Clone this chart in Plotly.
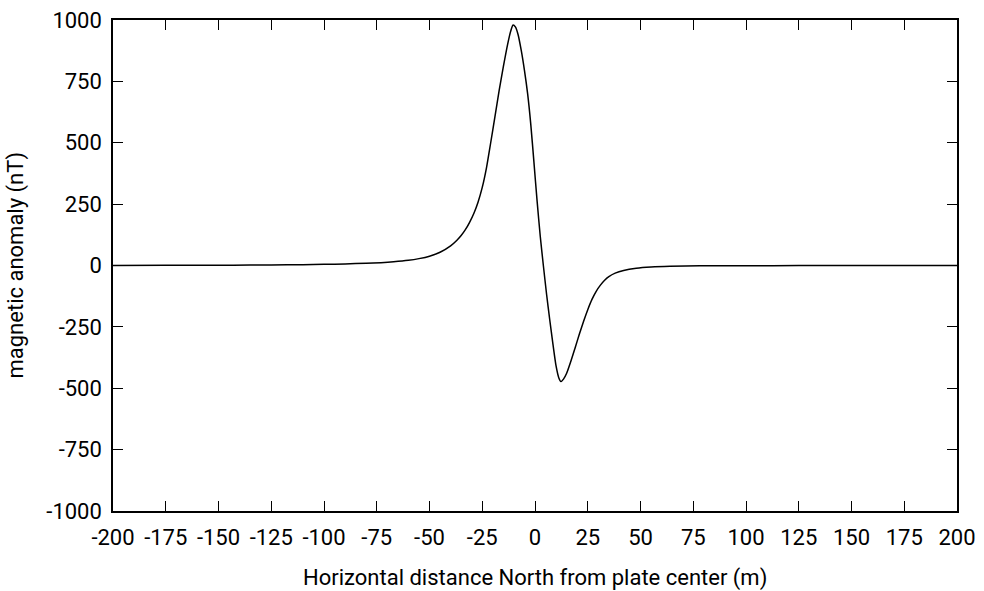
import plotly.graph_objects as go

# distance (m) and anomaly (nT)
distance_m = [-200, -175, -150, -135, -125, -110, -100, -90, -80, -73, -67, -60, -55, -50, -45,
              -40, -37, -35, -33, -31, -29, -27, -25, -23, -21, -19, -17, -15, -13,
              -11.5, -10.4, -9.3, -8, -6.5, -5, -3.5, -2, -0.5, 1, 2.5, 4,
              5.5, 7, 8.5, 10, 11.3, 12.3, 13.5, 15, 17, 19, 21, 23, 25, 27, 29,
              31, 33, 35, 38, 42, 48, 55, 64, 78, 100, 125, 150, 200]
anomaly_nT = [0.5, 0.8, 1.2, 1.7, 2.3, 3.5, 4.7, 6.5, 9, 11.5, 15, 21, 28, 38, 54,
              80, 103, 122, 146, 176, 212, 258, 318, 398, 500, 605, 712, 810, 900,
              955, 980, 972, 940, 875, 795, 700, 575, 420, 262, 118, -3,
              -118, -222, -320, -410, -458, -473, -463, -439, -390, -336, -280, -228, -180, -138, -105,
              -80, -60, -45, -31, -20, -11, -6, -3, -1.5, -0.8, -0.4, -0.2, 0]

x_ticks = [-200, -175, -150, -125, -100, -75, -50, -25, 0, 25, 50, 75, 100, 125, 150, 175, 200]
x_tick_labels = ["-200", "-175", "-150", "-125", "-100", "-75", "-50", "-25", "0", "25", "50",
                 "75", "100", "125", "150", "175", "200"]
y_ticks = [-1000, -750, -500, -250, 0, 250, 500, 750, 1000]
y_tick_labels = ["-1000", "-750", "-500", "-250", "0", "250", "500", "750", "1000"]

x_title = "Horizontal distance North from plate center (m)"
y_title = "magnetic anomaly (nT)"

fig = go.Figure()
fig.add_trace(go.Scatter(x=distance_m, y=anomaly_nT, mode="lines",
                         line=dict(color="black", width=1.5, shape="spline", smoothing=0.7),
                         showlegend=False, hoverinfo="skip"))

font = dict(family="Roboto", size=22, color="black")
axis_common = dict(showgrid=False, zeroline=False, showline=True, linecolor="black",
                   linewidth=1.5, mirror="ticks", ticks="inside", ticklen=10,
                   tickwidth=1, tickcolor="black", tickfont=font, automargin=False)

fig.update_layout(
    width=984, height=591,
    margin=dict(l=113, r=27, t=20, b=80),
    paper_bgcolor="white", plot_bgcolor="white",
    xaxis=dict(range=[-200, 200], tickvals=x_ticks, ticktext=x_tick_labels,
               ticklabelstandoff=6, **axis_common),
    yaxis=dict(range=[-1000, 1000], tickvals=y_ticks, ticktext=y_tick_labels,
               ticklabelstandoff=5, **axis_common),
    annotations=[
        dict(text=x_title, xref="paper", yref="paper", x=0.5, y=0, xanchor="center",
             yanchor="middle", yshift=-67, showarrow=False, font=font),
        dict(text=y_title, xref="paper", yref="paper", x=0, y=0.5, xanchor="center",
             yanchor="middle", xshift=-98, textangle=-90, showarrow=False, font=font),
    ],
)

fig.write_html("out.html")
